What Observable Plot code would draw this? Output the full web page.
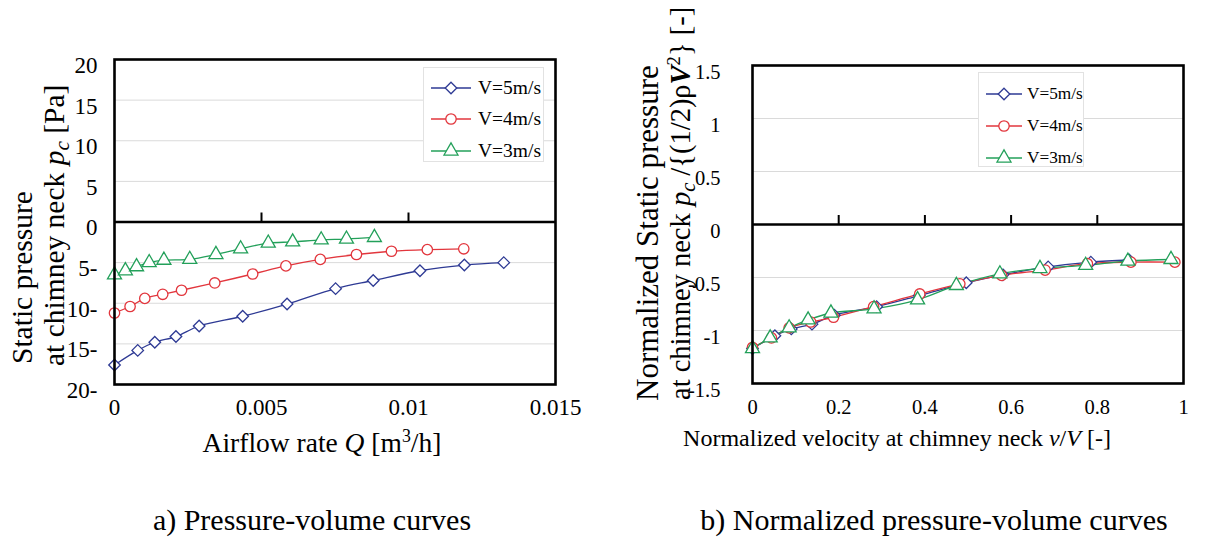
<!DOCTYPE html>
<html><head><meta charset="utf-8">
<script src="https://cdn.jsdelivr.net/npm/d3@7"></script>
<script src="https://cdn.jsdelivr.net/npm/@observablehq/plot@0.6"></script>
<style>
body{margin:0;background:#fff;font-family:"Liberation Serif","Times New Roman",serif;color:#000;}
#wrap{position:relative;width:1226px;height:545px;overflow:hidden;background:#fff;}
.abs{position:absolute;white-space:nowrap;}
.rot{transform-origin:0 0;transform:rotate(-90deg);}
.ctr{transform:translate(-50%,-50%);}
sub{font-size:0.72em;vertical-align:-0.22em;line-height:0;}
sup{font-size:0.65em;vertical-align:0.55em;line-height:0;}
.legend{position:absolute;background:#fff;border:1px solid #e2e2e2;box-sizing:border-box;}
.legend .row{position:absolute;left:0;display:flex;align-items:center;white-space:nowrap;}
.legend svg{display:block;}
.plotbox{position:absolute;top:0;}
</style></head><body><div id="wrap"></div>
<script>
// ---------- data ----------
const seriesNames = ["V=5m/s", "V=4m/s", "V=3m/s"];
const seriesColors = ["#2e3a94", "#e2363d", "#23a05a"];
const seriesSymbols = ["diamond2", "circle", "triangle"];

// a) Pressure-volume curves: airflow rate Q [m3/h], static pressure pc [Pa]
const qV5 = [0, 0.00079, 0.00137, 0.00209, 0.00288, 0.00436, 0.00587, 0.00752, 0.0088, 0.01039, 0.0119, 0.01324];
const pV5 = [-17.6, -15.8, -14.8, -14.1, -12.8, -11.6, -10.1, -8.2, -7.2, -6.0, -5.3, -5.0];
const qV4 = [0, 0.00053, 0.00103, 0.00164, 0.00228, 0.00341, 0.0047, 0.00583, 0.007, 0.00823, 0.00942, 0.01064, 0.01188];
const pV4 = [-11.2, -10.4, -9.4, -8.9, -8.4, -7.5, -6.4, -5.4, -4.6, -4.0, -3.6, -3.4, -3.3];
const qV3 = [0, 0.00037, 0.00075, 0.00118, 0.00168, 0.00256, 0.00345, 0.00429, 0.00523, 0.00606, 0.00703, 0.00789, 0.00884];
const pV3 = [-6.5, -6.0, -5.5, -5.0, -4.7, -4.6, -4.0, -3.3, -2.6, -2.45, -2.2, -2.1, -1.9];

// b) Normalized pressure-volume curves: v/V [-], pc/{(1/2)rho V^2} [-]
const vV5 = [0, 0.052, 0.09, 0.138, 0.19, 0.288, 0.387, 0.496, 0.581, 0.686, 0.785, 0.874];
const nV5 = [-1.17, -1.05, -0.985, -0.94, -0.855, -0.775, -0.67, -0.55, -0.475, -0.40, -0.355, -0.335];
const vV4 = [0, 0.044, 0.085, 0.135, 0.188, 0.281, 0.388, 0.481, 0.578, 0.679, 0.777, 0.878, 0.98];
const nV4 = [-1.16, -1.07, -0.975, -0.92, -0.875, -0.775, -0.655, -0.56, -0.48, -0.43, -0.37, -0.355, -0.355];
const vV3 = [0, 0.041, 0.085, 0.129, 0.182, 0.282, 0.383, 0.473, 0.574, 0.667, 0.773, 0.871, 0.971];
const nV3 = [-1.17, -1.07, -0.975, -0.90, -0.835, -0.795, -0.71, -0.575, -0.465, -0.415, -0.385, -0.345, -0.33];

// ticks
const leftXTicks = [0, 0.005, 0.01, 0.015];
const leftXMinor = [0.005, 0.01];
const leftYTicks = [-20, -15, -10, -5, 0, 5, 10, 15, 20];
const leftGrid = [-15, -10, -5, 5, 10, 15];
const rightXTicks = [0, 0.2, 0.4, 0.6, 0.8, 1];
const rightXMinor = [0.2, 0.4, 0.6, 0.8];
const rightYTicks = [-1.5, -1, -0.5, 0, 0.5, 1, 1.5];
const rightGrid = [-1, -0.5, 0.5, 1];

const zip = (xs, ys, s) => xs.map((x, i) => ({x, y: ys[i], s}));
const leftData = [zip(qV5, pV5, 0), zip(qV4, pV4, 1), zip(qV3, pV3, 2)];
const rightData = [zip(vV5, nV5, 0), zip(vV4, nV4, 1), zip(vV3, nV3, 2)];

function seriesMarks(data, r) {
  const m = [];
  data.forEach((d, k) => m.push(Plot.line(d, {x: "x", y: "y", stroke: seriesColors[k], strokeWidth: 1.3, curve: "catmull-rom"})));
  data.forEach((d, k) => m.push(Plot.dot(d, {x: "x", y: "y", symbol: seriesSymbols[k], r, stroke: seriesColors[k], fill: "white", strokeWidth: 1.3})));
  return m;
}

const wrap = document.getElementById("wrap");

function addPlot(opts, left) {
  const svg = Plot.plot(opts);
  const box = document.createElement("div");
  box.className = "plotbox";
  box.style.left = left + "px";
  box.appendChild(svg);
  wrap.appendChild(box);
}

// Left chart
addPlot({
  width: 600, height: 470,
  marginLeft: 114, marginTop: 59, marginRight: 45, marginBottom: 86,
  x: {domain: [0, 0.015], label: null},
  y: {domain: [-20, 20], label: null},
  style: {fontFamily: "Liberation Serif", fontSize: "23px", color: "#000", background: "transparent", overflow: "visible"},
  marks: [
    Plot.gridY(leftGrid, {stroke: "#dadada", strokeOpacity: 1, strokeWidth: 1}),
    Plot.axisY(leftYTicks, {tickSize: 0, tickPadding: 17, dy: 6, label: null, tickFormat: d => d < 0 ? `${-d}-` : String(d)}),
    Plot.axisX(leftXTicks, {tickSize: 0, tickPadding: 14, label: null, tickFormat: d => String(d)}),
    Plot.ruleX(leftXMinor, {y1: 0, y2: 0, insetTop: -9, stroke: "#000", strokeWidth: 2}),
    Plot.ruleY([0], {stroke: "#000", strokeWidth: 2.6}),
    ...seriesMarks(leftData, 5.2),
    Plot.frame({stroke: "#000", strokeWidth: 2.6})
  ]
}, 0);

// Right chart
addPlot({
  width: 613, height: 470,
  marginLeft: 139, marginTop: 65, marginRight: 43, marginBottom: 87,
  x: {domain: [0, 1], label: null},
  y: {domain: [-1.5, 1.5], label: null},
  style: {fontFamily: "Liberation Serif", fontSize: "20.5px", color: "#000", background: "transparent", overflow: "visible"},
  marks: [
    Plot.gridY(rightGrid, {stroke: "#dadada", strokeOpacity: 1, strokeWidth: 1}),
    Plot.axisY(rightYTicks, {tickSize: 0, tickPadding: 32, dy: 7, label: null, tickFormat: d => String(d)}),
    Plot.axisX(rightXTicks, {tickSize: 0, tickPadding: 16, label: null, tickFormat: d => String(d)}),
    Plot.ruleX(rightXMinor, {y1: 0, y2: 0, insetTop: -9, stroke: "#000", strokeWidth: 2}),
    Plot.ruleY([0], {stroke: "#000", strokeWidth: 2.6}),
    ...seriesMarks(rightData, 5.2),
    Plot.frame({stroke: "#000", strokeWidth: 2.6})
  ]
}, 613);

// Legends (overlay)
function addLegend(x, y, w, h, firstRow, rowH, lineW, textGap, fontSize) {
  const lg = document.createElement("div");
  lg.className = "legend";
  Object.assign(lg.style, {left: x + "px", top: y + "px", width: w + "px", height: h + "px"});
  seriesNames.forEach((name, k) => {
    const row = document.createElement("div");
    row.className = "row";
    row.style.top = (firstRow + k * rowH - 10) + "px";
    row.style.height = "20px";
    row.style.left = "7px";
    const ns = "http://www.w3.org/2000/svg";
    const s = document.createElementNS(ns, "svg");
    s.setAttribute("width", lineW); s.setAttribute("height", 20);
    const ln = document.createElementNS(ns, "line");
    ln.setAttribute("x1", 0); ln.setAttribute("x2", lineW); ln.setAttribute("y1", 10); ln.setAttribute("y2", 10);
    ln.setAttribute("stroke", seriesColors[k]); ln.setAttribute("stroke-width", 1.3);
    s.appendChild(ln);
    const symMap = {diamond2: d3.symbolDiamond2, circle: d3.symbolCircle, triangle: d3.symbolTriangle};
    const p = document.createElementNS(ns, "path");
    p.setAttribute("d", d3.symbol(symMap[seriesSymbols[k]], Math.PI * 27)());
    p.setAttribute("transform", `translate(${lineW / 2},10)`);
    p.setAttribute("fill", "white"); p.setAttribute("stroke", seriesColors[k]); p.setAttribute("stroke-width", 1.3);
    s.appendChild(p);
    row.appendChild(s);
    const t = document.createElement("span");
    t.textContent = name;
    t.style.fontSize = fontSize + "px";
    t.style.marginLeft = textGap + "px";
    t.style.lineHeight = "20px";
    row.appendChild(t);
    lg.appendChild(row);
  });
  wrap.appendChild(lg);
}
addLegend(423, 67, 121, 95, 19.5, 31.7, 40, 7, 19.5);
addLegend(978, 72, 106, 95, 21.3, 31.7, 36, 5, 17.3);

// Axis titles and captions (rich text)
function addHTML(html, cls, style) {
  const d = document.createElement("div");
  d.className = "abs " + cls;
  d.innerHTML = html;
  Object.assign(d.style, style);
  wrap.appendChild(d);
}
addHTML("Static pressure", "rot", {left: "6px", top: "364px", fontSize: "29.5px", lineHeight: "32px"});
addHTML("at chimney neck <i>p<sub>c</sub></i> [Pa]", "rot", {left: "38px", top: "366px", fontSize: "29.5px", lineHeight: "32px"});
addHTML("Airflow rate <i>Q</i> [m<sup>3</sup>/h]", "ctr", {left: "322px", top: "443px", fontSize: "27.5px"});
addHTML("Normalized Static pressure", "rot", {left: "632px", top: "401px", fontSize: "31px", lineHeight: "32px"});
addHTML("at chimney neck <i>p<sub>c</sub></i> /{(1/2)ρ<b><i>V</i></b><sup>2</sup>} [-]", "rot", {left: "665px", top: "400px", fontSize: "28.5px", lineHeight: "32px"});
addHTML("Normalized velocity at chimney neck <i>v</i>/<i>V</i> [-]", "ctr", {left: "897px", top: "438px", fontSize: "24px"});
addHTML("a) Pressure-volume curves", "ctr", {left: "312px", top: "520px", fontSize: "30px"});
addHTML("b) Normalized pressure-volume curves", "ctr", {left: "934px", top: "520px", fontSize: "30px"});
</script></body></html>
